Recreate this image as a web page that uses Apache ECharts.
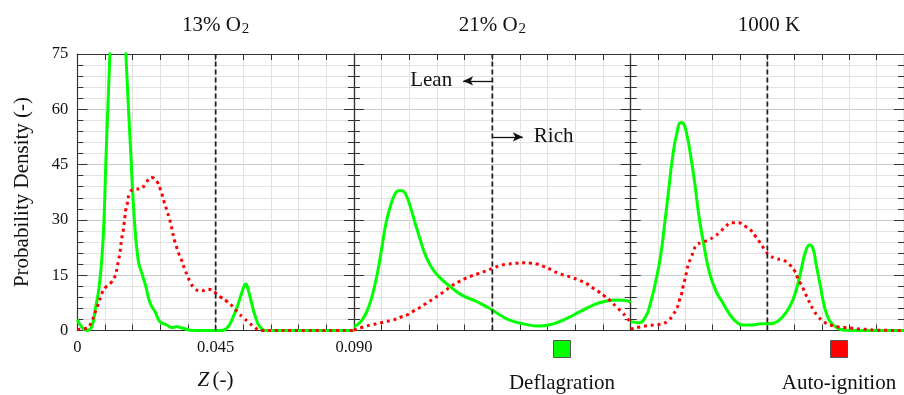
<!DOCTYPE html>
<html>
<head>
<meta charset="utf-8">
<script src="https://cdn.jsdelivr.net/npm/echarts@6/dist/echarts.min.js"></script>
<style>
  html, body { margin: 0; padding: 0; background: #ffffff; }
  #chart { width: 904px; height: 395px; }
</style>
</head>
<body>
<div id="chart"></div>
<script>
// Mixture-fraction probability densities for three cases, each panel spanning Z = 0 .. 0.09

const panelTitles = ['13% O', '21% O', '1000 K'];
const panelTitleSubs = ['2', '2', ''];
const zStoich = 0.045;
const xTickValues = [0, 0.045, 0.09];
const xTickLabels = ['0', '0.045', '0.090'];
const yTickValues = [0, 15, 30, 45, 60, 75];
const legendNames = ['Deflagration', 'Auto-ignition'];

// 13% O2 — deflagration [Z, PDF]
const deflag13 = [
  [0, 3.0], [0.0014, 1.0], [0.0031, 0], [0.0047, 1.0], [0.0060, 6.5], [0.0071, 11.9],
  [0.0081, 20.9], [0.0088, 32.7], [0.0093, 46.2], [0.0106, 75], [0.0116, 100],
  [0.0132, 112], [0.0145, 100], [0.0158, 75], [0.0175, 46.2], [0.0185, 30.9],
  [0.0198, 19.1], [0.0210, 15.5], [0.0223, 11.9], [0.0237, 7.4], [0.0253, 5.1],
  [0.0269, 2.4], [0.0291, 1.5], [0.0307, 0.8], [0.0323, 1.0], [0.0345, 0.6],
  [0.0367, 0.1], [0.0400, 0], [0.0464, 0], [0.0486, 0.6], [0.0507, 3.7],
  [0.0524, 7.4], [0.0538, 11.0], [0.0548, 12.6], [0.0556, 11.0], [0.0567, 7.4],
  [0.0581, 3.3], [0.0594, 1.0], [0.0616, 0], [0.075, 0], [0.09, 0]
];
// 13% O2 — auto-ignition
const auto13 = [
  [0, 0.3], [0.0031, 0.6], [0.0045, 2.1], [0.0055, 4.2], [0.0063, 6.0], [0.0071, 7.8],
  [0.0079, 9.9], [0.0092, 11.7], [0.0110, 13.0], [0.0123, 14.8], [0.0129, 16.8],
  [0.0133, 18.7], [0.0138, 20.7], [0.0141, 22.7], [0.0144, 24.8], [0.0149, 26.9],
  [0.0152, 28.9], [0.0155, 30.9], [0.0158, 32.9], [0.0164, 34.9], [0.0169, 37.0],
  [0.0184, 38.3], [0.0206, 38.4], [0.0223, 40.1], [0.0242, 41.5], [0.0258, 40.5],
  [0.0269, 38.6], [0.0277, 36.6], [0.0283, 34.7], [0.0291, 32.7], [0.0298, 30.7],
  [0.0305, 28.6], [0.0310, 26.6], [0.0316, 24.5], [0.0323, 22.6], [0.0331, 20.7],
  [0.0340, 18.9], [0.0348, 16.9], [0.0357, 15.1], [0.0367, 13.2], [0.0380, 11.6],
  [0.0401, 10.7], [0.0426, 11.2], [0.0448, 10.3], [0.0467, 9.0], [0.0488, 7.8],
  [0.0506, 6.5], [0.0522, 4.9], [0.0540, 3.5], [0.0559, 2.1], [0.0576, 0.9],
  [0.0598, 0], [0.075, 0], [0.09, 0]
];
// 21% O2 — deflagration
const deflag21 = [
  [0, 1.0], [0.0026, 2.8], [0.0048, 6.5], [0.0064, 11.0], [0.0078, 16.4], [0.0091, 22.7],
  [0.0104, 29.1], [0.0118, 33.6], [0.0132, 36.8], [0.0145, 37.9], [0.0156, 37.9],
  [0.0169, 36.8], [0.0183, 33.6], [0.0199, 29.1], [0.0216, 24.5], [0.0232, 20.5],
  [0.0254, 16.9], [0.0281, 14.2], [0.0313, 11.9], [0.0351, 9.6], [0.0395, 8.0],
  [0.0427, 6.6], [0.0449, 5.6], [0.0475, 4.2], [0.0507, 2.8], [0.0551, 1.8],
  [0.0605, 1.2], [0.0648, 1.8], [0.0692, 3.3], [0.0735, 5.1], [0.0778, 6.9],
  [0.0811, 7.8], [0.0855, 8.3], [0.0887, 8.1], [0.09, 7.6]
];
// 21% O2 — auto-ignition
const auto21 = [
  [0, 0.1], [0.0032, 1.0], [0.0053, 1.5], [0.0078, 1.9], [0.0102, 2.4], [0.0126, 2.8],
  [0.0151, 3.6], [0.0172, 4.2], [0.0194, 5.3], [0.0216, 6.3], [0.0235, 7.4],
  [0.0256, 8.5], [0.0276, 9.6], [0.0297, 10.8], [0.0317, 12.1], [0.0338, 13.1],
  [0.0359, 14.0], [0.0382, 14.8], [0.0406, 15.5], [0.0427, 16.1], [0.0451, 16.9],
  [0.0475, 17.6], [0.0499, 18.0], [0.0524, 18.2], [0.0547, 18.4], [0.0573, 18.3],
  [0.0596, 18.0], [0.0619, 17.3], [0.0643, 16.4], [0.0665, 15.5], [0.0689, 14.9],
  [0.0711, 14.3], [0.0733, 13.6], [0.0757, 12.7], [0.0776, 11.6], [0.0798, 10.4],
  [0.0817, 9.2], [0.0835, 8.0], [0.0852, 6.5], [0.0871, 5.0], [0.0887, 3.5], [0.09, 2.0]
];
// 1000 K — deflagration
const deflag1000 = [
  [0, 2.4], [0.0027, 2.1], [0.0049, 3.7], [0.0065, 7.4], [0.0081, 12.8], [0.0098, 20.0],
  [0.0112, 29.1], [0.0125, 38.1], [0.0138, 47.1], [0.0152, 53.5], [0.0165, 56.4],
  [0.0173, 56.2], [0.0184, 53.5], [0.0198, 47.1], [0.0211, 39.9], [0.0225, 30.9],
  [0.0242, 22.7], [0.0260, 15.5], [0.0282, 10.5], [0.0304, 7.4], [0.0325, 4.5],
  [0.0347, 2.4], [0.0369, 1.5], [0.0396, 1.5], [0.0428, 1.8], [0.0453, 1.8],
  [0.0475, 2.1], [0.0496, 3.3], [0.0524, 6.5], [0.0545, 11.0], [0.0561, 16.4],
  [0.0576, 21.4], [0.0589, 23.2], [0.0600, 22.3], [0.0610, 18.2], [0.0625, 11.9],
  [0.0638, 6.5], [0.0654, 2.8], [0.0675, 1.0], [0.0703, 0.1], [0.08, 0], [0.09, 0]
];
// 1000 K — auto-ignition
const auto1000 = [
  [0, 0.4], [0.0033, 1.0], [0.0054, 1.3], [0.0079, 1.5], [0.0103, 1.8], [0.0125, 2.8],
  [0.0141, 4.5], [0.0152, 6.0], [0.0160, 8.1], [0.0168, 10.1], [0.0173, 12.1],
  [0.0179, 14.0], [0.0184, 15.9], [0.0190, 18.0], [0.0200, 20.0], [0.0208, 21.8],
  [0.0217, 23.3], [0.0233, 23.8], [0.0255, 24.5], [0.0274, 25.4], [0.0293, 26.6],
  [0.0312, 28.2], [0.0333, 29.2], [0.0355, 29.2], [0.0377, 28.3], [0.0398, 27.0],
  [0.0412, 25.4], [0.0426, 23.8], [0.0441, 22.0], [0.0456, 20.5], [0.0478, 19.5],
  [0.0502, 19.1], [0.0521, 18.0], [0.0538, 16.4], [0.0548, 14.6], [0.0559, 12.8],
  [0.0570, 11.0], [0.0581, 9.0], [0.0592, 7.1], [0.0603, 5.4], [0.0618, 3.7],
  [0.0635, 2.4], [0.0657, 1.5], [0.0681, 1.0], [0.0705, 0.8], [0.0730, 0.6],
  [0.0755, 0.4], [0.0778, 0.3], [0.0805, 0.1], [0.09, 0]
];

const deflagSets = [deflag13, deflag21, deflag1000];
const autoSets = [auto13, auto21, auto1000];

const FONT = '"Liberation Serif", "Times New Roman", serif';
const INK = '#111111';
const AXIS = '#333333';
const GREEN = '#00ff00';
const RED = '#ff0000';

const panelLeft = [77.3, 354, 630.7];
const panelWidth = 276.7;
const panelTop = 54;
const panelHeight = 276.5;

const chart = echarts.init(document.getElementById('chart'), null, { renderer: 'canvas' });

const grids = [], xAxes = [], yAxes = [], series = [], graphics = [];

function tickLabel(v) {
  for (let k = 0; k < xTickValues.length; k++) {
    if (Math.abs(v - xTickValues[k]) < 1e-9) return xTickLabels[k];
  }
  return '';
}

for (let i = 0; i < 3; i++) {
  grids.push({ left: panelLeft[i], top: panelTop, width: panelWidth, height: panelHeight, containLabel: false });

  // bottom axis with vertical grid lines
  xAxes.push({
    type: 'value', gridIndex: i, position: 'bottom', min: 0, max: 0.09, interval: 0.009,
    axisLine: { show: true, onZero: false, lineStyle: { color: AXIS, width: 1.2 } },
    axisTick: { show: true, inside: true, length: 6, lineStyle: { color: AXIS, width: 1 } },
    axisLabel: {
      show: i === 0, margin: 9, color: INK, fontFamily: FONT, fontSize: 16.5,
      showMinLabel: true, showMaxLabel: true, hideOverlap: false,
      formatter: tickLabel
    },
    splitLine: { show: true, lineStyle: { color: '#e1e1e1', width: 1 } }
  });
  // top frame axis
  xAxes.push({
    type: 'value', gridIndex: i, position: 'top', min: 0, max: 0.09, interval: 0.009,
    axisLine: { show: true, onZero: false, lineStyle: { color: AXIS, width: 1.2 } },
    axisTick: { show: true, inside: true, length: 6, lineStyle: { color: AXIS, width: 1 } },
    axisLabel: { show: false },
    splitLine: { show: false }
  });
  // left axis with horizontal grid lines
  yAxes.push({
    type: 'value', gridIndex: i, position: 'left', min: 0, max: 75, interval: 15,
    axisLine: { show: true, onZero: false, lineStyle: { color: AXIS, width: 1.2 } },
    axisTick: { show: true, inside: true, length: 10, lineStyle: { color: AXIS, width: 1 } },
    minorTick: { show: true, splitNumber: 5, length: 6, lineStyle: { color: AXIS, width: 1 } },
    axisLabel: {
      show: i === 0, margin: 9, color: INK, fontFamily: FONT, fontSize: 16.5,
      showMinLabel: true, showMaxLabel: true, hideOverlap: false,
      formatter: v => (yTickValues.indexOf(Math.round(v)) >= 0 ? String(Math.round(v)) : '')
    },
    splitLine: { show: true, lineStyle: { color: '#c9c9c9', width: 1 } },
    minorSplitLine: { show: true, lineStyle: { color: '#e3e3e3', width: 1 } }
  });
  // right frame axis
  yAxes.push({
    type: 'value', gridIndex: i, position: 'right', min: 0, max: 75, interval: 15,
    axisLine: { show: true, onZero: false, lineStyle: { color: AXIS, width: 1.2 } },
    axisTick: { show: true, inside: true, length: 10, lineStyle: { color: AXIS, width: 1 } },
    minorTick: { show: true, splitNumber: 5, length: 6, lineStyle: { color: AXIS, width: 1 } },
    axisLabel: { show: false },
    splitLine: { show: false }
  });

  series.push({
    name: legendNames[0], type: 'line', xAxisIndex: 2 * i, yAxisIndex: 2 * i,
    data: deflagSets[i], showSymbol: false, symbol: 'none', smooth: 0.5,
    clip: true, z: 3,
    lineStyle: { color: GREEN, width: 3, join: 'round' }
  });
  series.push({
    name: legendNames[1], type: 'line', xAxisIndex: 2 * i, yAxisIndex: 2 * i,
    data: autoSets[i], showSymbol: false, symbol: 'none', smooth: 0.5,
    clip: true, z: 4,
    lineStyle: { color: RED, width: 3, type: [3, 3.8], cap: 'butt' }
  });

  // stoichiometric mixture fraction
  const stoich = {
    name: 'stoich', type: 'line', xAxisIndex: 2 * i, yAxisIndex: 2 * i,
    data: [[zStoich, 0], [zStoich, 75]], showSymbol: false, symbol: 'none', z: 5,
    lineStyle: { color: '#222222', width: 1.8, type: [5, 3] },
    silent: true
  };
  if (i === 1) {
    stoich.markLine = {
      silent: true, symbol: ['none', 'arrow'], symbolSize: [7, 10], animation: false,
      lineStyle: { color: '#111111', width: 1.3, type: 'solid' },
      label: { show: true, position: 'end', distance: 11, color: INK, fontFamily: FONT, fontSize: 21, formatter: '{b}' },
      data: [
        [{ name: 'Lean', coord: [zStoich, 67.7] }, { coord: [0.0355, 67.7] }],
        [{ name: 'Rich', coord: [zStoich, 52.5] }, { coord: [0.0549, 52.5] }]
      ]
    };
  }
  series.push(stoich);

  // panel heading
  const cx = panelLeft[i] + panelWidth / 2;
  graphics.push({
    type: 'text', x: cx, y: 25,
    style: {
      text: panelTitleSubs[i] ? '{m|' + panelTitles[i] + '}{s|' + panelTitleSubs[i] + '}' : '{m|' + panelTitles[i] + '}',
      align: 'center', verticalAlign: 'middle',
      rich: {
        m: { fontFamily: FONT, fontSize: 21, fill: INK },
        s: { fontFamily: FONT, fontSize: 15, fill: INK, padding: [9, 0, 0, 1] }
      }
    }
  });
}

// axis captions
graphics.push({
  type: 'text', x: 22, y: 192, rotation: Math.PI / 2,
  style: { text: 'Probability Density (-)', align: 'center', verticalAlign: 'middle', fontFamily: FONT, fontSize: 21, fill: INK }
});
graphics.push({
  type: 'text', x: 215.6, y: 380,
  style: {
    text: '{i|Z} {n|(-)}', align: 'center', verticalAlign: 'middle',
    rich: {
      i: { fontFamily: FONT, fontSize: 21, fontStyle: 'italic', fill: INK },
      n: { fontFamily: FONT, fontSize: 21, fill: INK }
    }
  }
});

// combustion-mode key
const keyColors = [GREEN, RED];
const keyX = [562, 839];
for (let k = 0; k < 2; k++) {
  graphics.push({
    type: 'rect', shape: { x: keyX[k] - 8.5, y: 340.5, width: 17, height: 17 },
    style: { fill: keyColors[k], stroke: '#555555', lineWidth: 1 }
  });
  graphics.push({
    type: 'text', x: keyX[k], y: 383,
    style: { text: legendNames[k], align: 'center', verticalAlign: 'middle', fontFamily: FONT, fontSize: 21, fill: INK }
  });
}

chart.setOption({
  animation: false,
  backgroundColor: '#ffffff',
  grid: grids,
  xAxis: xAxes,
  yAxis: yAxes,
  series: series,
  graphic: { elements: graphics }
});
</script>
</body>
</html>
